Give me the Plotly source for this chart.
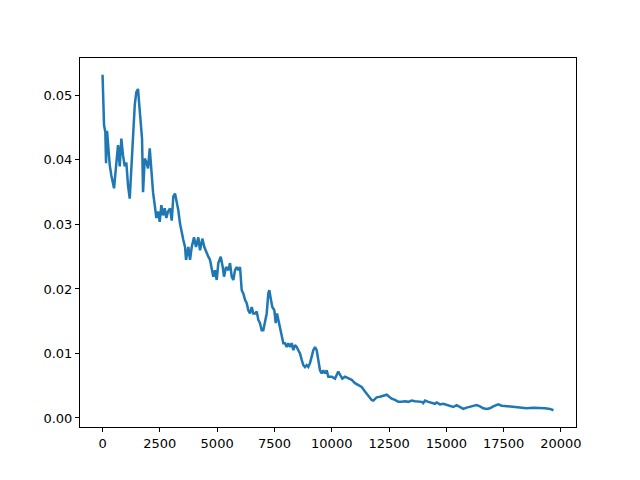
import plotly.graph_objects as go

steps = [0, 65, 122, 153, 196, 240, 314, 384, 502, 589, 676, 750, 820, 894, 968, 1038, 1112, 1186,
         1256, 1330, 1405, 1474, 1548, 1592, 1666, 1723, 1767, 1841, 1911, 1985, 2059, 2129, 2203,
         2277, 2347, 2421, 2495, 2565, 2639, 2713, 2783, 2857, 2944, 3019, 3088, 3162, 3237, 3306,
         3381, 3455, 3525, 3599, 3642, 3743, 3817, 3891, 3991, 4078, 4179, 4253, 4353, 4441, 4545,
         4615, 4689, 4763, 4833, 4907, 4981, 5051, 5156, 5243, 5300, 5387, 5487, 5562, 5636, 5706,
         5780, 5854, 5924, 5998, 6072, 6142, 6216, 6290, 6360, 6434, 6508, 6578, 6652, 6726, 6796,
         6870, 6944, 7014, 7088, 7162, 7232, 7276, 7350, 7407, 7494, 7555, 7612, 7668, 7743, 7817,
         7887, 7961, 8035, 8105, 8179, 8253, 8323, 8397, 8471, 8541, 8615, 8689, 8759, 8833, 8907,
         8977, 9051, 9125, 9195, 9269, 9343, 9413, 9487, 9562, 9631, 9706, 9780, 9850, 9998, 10142,
         10286, 10360, 10460, 10578, 10722, 10870, 11014, 11158, 11306, 11450, 11594, 11742, 11812,
         11960, 12104, 12248, 12397, 12467, 12615, 12759, 12903, 13051, 13195, 13339, 13487, 13631,
         13775, 13924, 13993, 14068, 14212, 14360, 14504, 14578, 14722, 14866, 15014, 15158, 15302,
         15450, 15594, 15738, 15886, 16104, 16322, 16466, 16610, 16759, 16903, 17047, 17195, 17265,
         17413, 17632, 17919, 18212, 18504, 18792, 19084, 19302, 19520, 19673]

values = [0.0532, 0.0454, 0.0443, 0.0395, 0.0445, 0.0418, 0.0392, 0.0376, 0.0356, 0.0390, 0.0423,
          0.0390, 0.0433, 0.0407, 0.0390, 0.0396, 0.0360, 0.0340, 0.0390, 0.0427, 0.0485, 0.0505,
          0.0510, 0.0490, 0.0464, 0.0433, 0.0350, 0.0402, 0.0397, 0.0387, 0.0418, 0.0381, 0.0350,
          0.0330, 0.0310, 0.0320, 0.0304, 0.0330, 0.0314, 0.0325, 0.0310, 0.0320, 0.0325, 0.0306,
          0.0343, 0.0348, 0.0337, 0.0322, 0.0301, 0.0286, 0.0276, 0.0265, 0.0245, 0.0265, 0.0245,
          0.0265, 0.0280, 0.0265, 0.0280, 0.0260, 0.0278, 0.0265, 0.0255, 0.0250, 0.0245, 0.0229,
          0.0219, 0.0229, 0.0214, 0.0240, 0.0250, 0.0234, 0.0219, 0.0234, 0.0229, 0.0240, 0.0219,
          0.0214, 0.0229, 0.0234, 0.0229, 0.0234, 0.0198, 0.0193, 0.0183, 0.0178, 0.0167, 0.0162,
          0.0172, 0.0162, 0.0162, 0.0165, 0.0152, 0.0147, 0.0136, 0.0136, 0.0147, 0.0162, 0.0193,
          0.0198, 0.0183, 0.0172, 0.0167, 0.0147, 0.0162, 0.0152, 0.0141, 0.0126, 0.0116, 0.0116,
          0.0110, 0.0116, 0.0110, 0.0116, 0.0105, 0.0113, 0.0110, 0.0105, 0.0100, 0.0090, 0.0082,
          0.0079, 0.0082, 0.0079, 0.0085, 0.0095, 0.0105, 0.0110, 0.0105, 0.0090, 0.0074, 0.0069,
          0.0074, 0.0069, 0.0074, 0.0064, 0.0064, 0.0061, 0.0072, 0.0067, 0.0061, 0.0064, 0.0061,
          0.0059, 0.0054, 0.0051, 0.0048, 0.0041, 0.0034, 0.0028, 0.0027, 0.0032, 0.0033, 0.0034,
          0.0036, 0.0034, 0.0030, 0.0028, 0.0025, 0.0025, 0.0026, 0.0025, 0.0027, 0.0026, 0.0025,
          0.0025, 0.0023, 0.0027, 0.0025, 0.0023, 0.0022, 0.0024, 0.0021, 0.0022, 0.0020, 0.0018,
          0.0017, 0.0020, 0.0017, 0.0014, 0.0016, 0.0018, 0.0020, 0.0018, 0.0015, 0.0014, 0.0015,
          0.0018, 0.0020, 0.0021, 0.0019, 0.0018, 0.0017, 0.0016, 0.0015, 0.0016, 0.0016, 0.0015,
          0.0014, 0.0012]

x_ticks = [0, 2500, 5000, 7500, 10000, 12500, 15000, 17500, 20000]
y_ticks = [0.00, 0.01, 0.02, 0.03, 0.04, 0.05]

fig = go.Figure()
fig.add_trace(go.Scatter(x=steps, y=values, mode="lines",
                         line=dict(color="#1f77b4", width=2.5), showlegend=False))

xspan = max(steps) - min(steps)
yspan = max(values) - min(values)
axis_common = dict(showgrid=False, zeroline=False, showline=True, linecolor="black",
                   linewidth=1, mirror=True, ticks="outside", ticklen=4, tickcolor="black",
                   tickfont=dict(family="DejaVu Sans", size=13, color="black"))
fig.update_layout(
    width=640, height=480,
    margin=dict(l=80, r=64, t=58, b=53),
    paper_bgcolor="white", plot_bgcolor="white",
    xaxis=dict(range=[min(steps) - 0.05 * xspan, max(steps) + 0.05 * xspan],
               tickvals=x_ticks, ticktext=[str(t) for t in x_ticks], **axis_common),
    yaxis=dict(range=[min(values) - 0.05 * yspan, max(values) + 0.05 * yspan],
               tickvals=y_ticks, ticktext=[f"{t:.2f}" for t in y_ticks], **axis_common),
)
fig.write_html("out.html", config={"displayModeBar": False},
               post_script="document.body.style.margin='0';document.body.style.padding='0';")
